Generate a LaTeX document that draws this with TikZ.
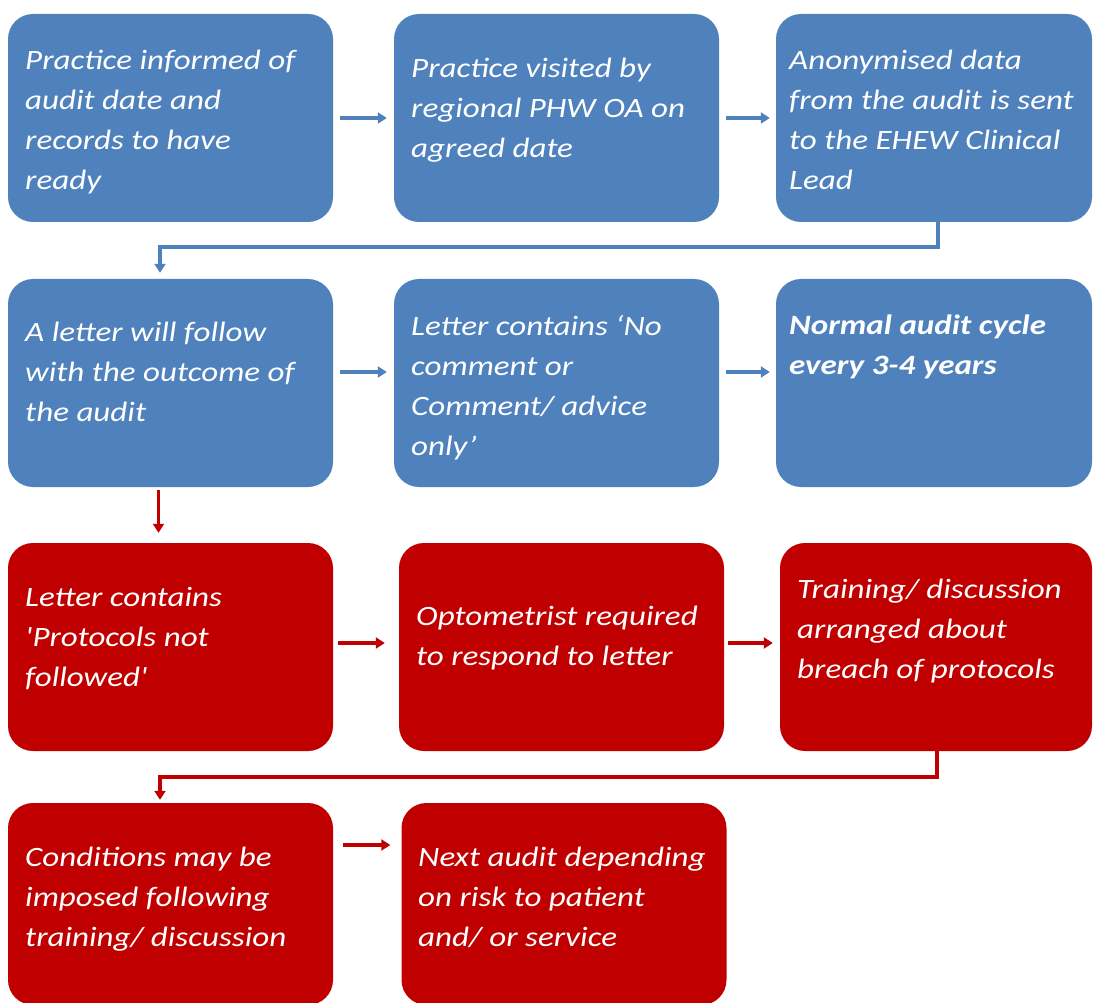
\documentclass[tikz,border=0pt]{standalone}
\usepackage{fontspec}
\usepackage{xcolor}
\setmainfont{Carlito}[Ligatures=TeXOff,FakeStretch=1.18]
\usetikzlibrary{arrows.meta}
\definecolor{phwblue}{HTML}{4F81BD}
\definecolor{phwred}{HTML}{C00000}

\begin{document}
\begin{tikzpicture}[x=1pt,y=-1pt,
  bluebox/.style={fill=phwblue,rounded corners=25pt,minimum width=325pt,minimum height=208pt,inner sep=0pt},
  redbox/.style={bluebox,fill=phwred},
  boxtext/.style={anchor=north west,inner sep=0pt,text=white,align=left,font=\fontsize{28}{40}\selectfont\itshape,execute at begin node=\strut},
  bluearrow/.style={draw=phwblue,line width=3.2pt,-{Triangle[width=11pt,length=9pt]}},
  redarrow/.style={bluearrow,draw=phwred}]
\useasboundingbox (0,0) rectangle (1093,1003);
\node[bluebox] (practice) at (170.5,118) {};
\node[bluebox] (visit) at (556.5,118) {};
\node[bluebox,minimum width=316pt] (data) at (934,118) {};
\node[bluebox] (letter) at (170.5,383) {};
\node[bluebox] (nocomment) at (556.5,383) {};
\node[bluebox,minimum width=316pt] (cycle) at (934,383) {};
\node[redbox] (protocols) at (170.5,647) {};
\node[redbox] (respond) at (561.5,647) {};
\node[redbox,minimum width=312pt] (training) at (936,647) {};
\node[redbox,minimum height=202pt] (conditions) at (170.5,904) {};
\node[redbox,minimum height=202pt] (nextaudit) at (564,904) {};
\node[boxtext] (practicetxt) at (25,50) {Practice informed of\\audit date and\\records to have\\ready};
\node[boxtext] (visittxt) at (411,58) {Practice visited by\\regional PHW OA on\\agreed date};
\node[boxtext] (datatxt) at (789,50) {Anonymised data\\from the audit is sent\\to the EHEW Clinical\\Lead};
\node[boxtext] (lettertxt) at (25,322) {A letter will follow\\with the outcome of\\the audit};
\node[boxtext] (nocommenttxt) at (411,315) {Letter contains ‘No\\comment or\\Comment/ advice\\only’};
\node[boxtext,font=\fontsize{28}{40}\selectfont\itshape\bfseries] (cycletxt) at (789,315) {Normal audit cycle\\every 3-4 years};
\node[boxtext] (protocolstxt) at (25,587) {Letter contains\\'Protocols not\\followed'};
\node[boxtext] (respondtxt) at (416,606) {Optometrist required\\to respond to letter};
\node[boxtext] (trainingtxt) at (797,579) {Training/ discussion\\arranged about\\breach of protocols};
\node[boxtext] (conditionstxt) at (25,847) {Conditions may be\\imposed following\\training/ discussion};
\node[boxtext] (nextaudittxt) at (418,847) {Next audit depending\\on risk to patient\\and/ or service};
\coordinate (bendtop) at (160,247);
\coordinate (bendbottom) at (160,777);
\draw[bluearrow,shorten <=7pt,shorten >=7pt] (practice) -- (visit);
\draw[bluearrow,shorten <=7pt,shorten >=6pt] (visit) -- (data);
\draw[bluearrow,shorten >=6pt] ([xshift=4pt]data.south) |- (bendtop) -- (bendtop |- letter.north);
\draw[bluearrow,shorten <=7pt,shorten >=7pt] ([yshift=11pt]letter.east) -- ([yshift=11pt]nocomment.west);
\draw[bluearrow,shorten <=7pt,shorten >=6pt] ([yshift=11pt]nocomment.east) -- ([yshift=11pt]cycle.west);
\draw[redarrow,shorten <=3pt,shorten >=10pt] ([xshift=-12pt]letter.south) -- ([xshift=-12pt]protocols.north);
\draw[redarrow,shorten <=5pt,shorten >=14pt] ([yshift=4pt]protocols.east) -- ([yshift=4pt]respond.west);
\draw[redarrow,shorten <=4pt,shorten >=7pt] ([yshift=4pt]respond.east) -- ([yshift=4pt]training.west);
\draw[redarrow,shorten >=3pt] ([xshift=1pt]training.south) |- (bendbottom) -- (bendbottom |- conditions.north);
\draw[redarrow,shorten <=10pt,shorten >=11pt] ([yshift=59pt]conditions.east) -- ([yshift=59pt]nextaudit.west);
\end{tikzpicture}
\end{document}
